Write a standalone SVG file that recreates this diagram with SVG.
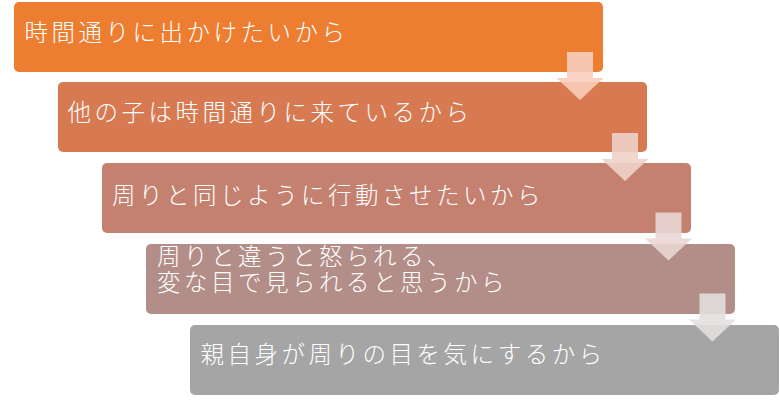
<svg xmlns="http://www.w3.org/2000/svg" width="780" height="403" viewBox="0 0 780 403">
<style>
.box{stroke:none}
.t{font-family:"Noto Sans CJK JP","Noto Sans CJK SC",sans-serif;font-size:23.5px;font-weight:300;fill:#ffffff;letter-spacing:3.5px}
.arr{fill-opacity:0.9}
</style>
<defs>
<path id="arrow" d="M-13,0 H13 V26 H23.5 L0,48 L-23.5,26 H-13 Z"/>
</defs>
<rect width="780" height="403" fill="#ffffff"/>
<g id="node1"><rect class="box" x="14" y="2" width="589" height="70" rx="5" fill="#ED7D31"/><text class="t" x="24.5" y="40.5">時間通りに出かけたいから</text></g>
<g id="node2"><rect class="box" x="58" y="82" width="589" height="70" rx="5" fill="#D77A52"/><text class="t" x="67.5" y="121">他の子は時間通りに来ているから</text></g>
<g id="node3"><rect class="box" x="102" y="163" width="589" height="70" rx="5" fill="#C48170"/><text class="t" x="112" y="204">周りと同じように行動させたいから</text></g>
<g id="node4"><rect class="box" x="146" y="244" width="589" height="70" rx="5" fill="#B38E88"/><text class="t" x="157" y="264.5"><tspan x="157" y="264.5">周りと違うと怒られる、</tspan><tspan x="157" y="290.5">変な目で見られると思うから</tspan></text></g>
<g id="node5"><rect class="box" x="190" y="325" width="589" height="70" rx="5" fill="#A5A5A5"/><text class="t" x="200.5" y="362.5">親自身が周りの目を気にするから</text></g>
<g id="connectors">
<use href="#arrow" class="arr" x="580" y="52" fill="#F8CDBC"/>
<use href="#arrow" class="arr" x="625" y="133" fill="#F0D2C9"/>
<use href="#arrow" class="arr" x="668.5" y="212.5" fill="#E9D6D3"/>
<use href="#arrow" class="arr" x="712.5" y="293.5" fill="#E2DFDE"/>
</g>
</svg>
